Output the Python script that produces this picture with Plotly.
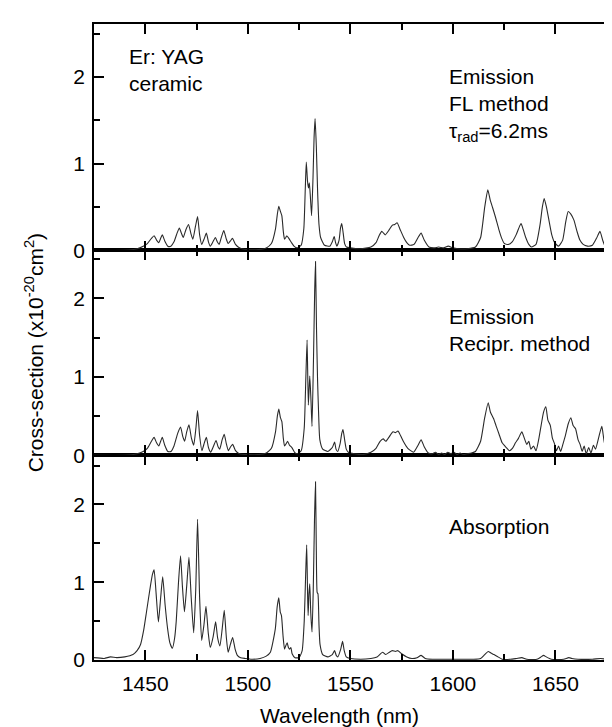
import plotly.graph_objects as go

# ---------------- data ----------------
fl_x = [1425, 1435, 1442, 1446, 1449, 1451, 1453, 1454.3, 1455.5, 1456.6, 1457.5, 1458.3, 1459.5, 1461, 1462.5, 1464,
        1465.5, 1466.6, 1467.6, 1468.5, 1469.8, 1471.1, 1472.2, 1473.2, 1474.5, 1475.5, 1476.5, 1477.5, 1478.8, 1479.8,
        1480.8, 1481.7, 1483, 1484.2, 1485.1, 1486, 1487.2, 1488.3, 1489.4, 1490.4, 1491.5, 1492.5, 1494, 1495.3, 1497,
        1500, 1505, 1509, 1511.5, 1513.5, 1514.4, 1515.1, 1515.9, 1516.6, 1517.3, 1517.9, 1518.5, 1519, 1520, 1521.3,
        1522.5, 1524, 1526, 1527.3, 1528, 1528.5, 1529.1, 1529.6, 1530, 1530.5, 1531.1, 1531.8, 1532.3, 1532.8, 1533.4,
        1534, 1534.7, 1535.5, 1537.4, 1540, 1541.2, 1542.1, 1542.8, 1543.4, 1544.5, 1545.2, 1545.8, 1546.5, 1547.2,
        1548.1, 1550, 1555, 1560, 1562.5, 1564, 1565.3, 1566.2, 1567, 1568.7, 1570.4, 1571.6, 1572.8, 1574.3, 1576,
        1577.5, 1578.9, 1581, 1583, 1584.5, 1586, 1588.3, 1591, 1593, 1595.5, 1597.7, 1600, 1602.5, 1607, 1611, 1613.5,
        1615.5, 1617, 1618.2, 1619.4, 1620.8, 1622.3, 1623.8, 1625.1, 1627, 1628.9, 1630.8, 1632, 1633.2, 1634.3, 1635.5,
        1637, 1638.3, 1640.5, 1642.5, 1643.6, 1644.5, 1645.6, 1646.8, 1648.2, 1649.6, 1651.5, 1653.5, 1655, 1656.2,
        1657.5, 1659, 1660.5, 1661.9, 1663.5, 1665.6, 1668, 1670, 1671.7, 1673, 1674.2, 1676, 1680]
fl_y = [0.0, 0.0, 0.005, 0.02, 0.05, 0.08, 0.14, 0.17, 0.12, 0.09, 0.14, 0.18, 0.11, 0.05, 0.05, 0.10,
        0.20, 0.26, 0.20, 0.15, 0.24, 0.30, 0.20, 0.13, 0.28, 0.39, 0.18, 0.07, 0.14, 0.20,
        0.10, 0.05, 0.10, 0.15, 0.10, 0.07, 0.16, 0.23, 0.14, 0.08, 0.11, 0.14, 0.07, 0.04, 0.02,
        0.01, 0.01, 0.03, 0.08, 0.25, 0.42, 0.51, 0.45, 0.40, 0.22, 0.13, 0.15, 0.17, 0.14, 0.09,
        0.05, 0.03, 0.06, 0.25, 0.70, 1.02, 0.80, 0.72, 0.78, 0.62, 0.40, 0.85, 1.30, 1.52, 1.20,
        0.70, 0.30, 0.15, 0.06, 0.05, 0.10, 0.16, 0.09, 0.05, 0.12, 0.26, 0.31, 0.20, 0.08,
        0.04, 0.03, 0.02, 0.04, 0.09, 0.17, 0.22, 0.20, 0.18, 0.23, 0.29, 0.30, 0.32, 0.24, 0.15,
        0.09, 0.06, 0.07, 0.15, 0.20, 0.12, 0.04, 0.03, 0.04, 0.03, 0.05, 0.03, 0.02, 0.02, 0.04, 0.15,
        0.50, 0.70, 0.58, 0.49, 0.38, 0.25, 0.14, 0.08, 0.07, 0.10, 0.18, 0.25, 0.31, 0.24, 0.15,
        0.07, 0.04, 0.07, 0.30, 0.50, 0.60, 0.50, 0.35, 0.18, 0.09, 0.05, 0.12, 0.33, 0.45,
        0.42, 0.35, 0.22, 0.12, 0.07, 0.05, 0.06, 0.14, 0.22, 0.12, 0.05, 0.03, 0.03]

rec_x = [1425, 1440, 1446, 1449, 1451, 1453, 1454.3, 1455.5, 1456.6, 1457.5, 1458.3, 1459.5, 1461, 1462.5, 1464,
         1465.8, 1467.2, 1468.3, 1469.2, 1470.2, 1471.3, 1472.5, 1473.6, 1474.7, 1475.5, 1476.5, 1477.6, 1478.8,
         1479.8, 1480.8, 1481.9, 1483.3, 1484.5, 1485.5, 1486.3, 1487.5, 1488.5, 1489.5, 1490.5, 1491.6, 1492.6,
         1494, 1495.8, 1500, 1505, 1509, 1511.5, 1513.5, 1514.4, 1515.1, 1515.9, 1516.6, 1517.3, 1517.9, 1518.7,
         1519.4, 1520.3, 1521.5, 1522.8, 1524, 1526, 1527.5, 1528.3, 1528.9, 1529.5, 1530.2, 1530.8, 1531.3, 1532,
         1532.6, 1533, 1533.5, 1534, 1534.5, 1535.1, 1536.5, 1539, 1541.2, 1542.3, 1543, 1543.8, 1545, 1545.8,
         1546.4, 1547.2, 1548, 1549, 1552, 1556, 1560, 1562.5, 1564.5, 1566, 1567.3, 1569, 1570.8, 1572, 1573.2,
         1574.5, 1576, 1578, 1580.8, 1583, 1584.5, 1586, 1588, 1590, 1591.5, 1593, 1594.5, 1596, 1597.5, 1599,
         1600.5, 1602, 1603.5, 1605, 1607, 1609, 1611, 1613.5, 1615.5, 1617.2, 1618.3, 1619.8, 1621, 1622.5, 1624,
         1626, 1627.5, 1629, 1630.5, 1632, 1633.6, 1634.8, 1636, 1637, 1638, 1639.3, 1640.5, 1641.8, 1643, 1644.2,
         1645.3, 1646.3, 1647.5, 1648.5, 1649.5, 1650.5, 1651.5, 1652.5, 1653.5, 1654.8, 1656.2, 1657.5, 1658.6,
         1659.8, 1661, 1662, 1663, 1664, 1665, 1666.2, 1667.3, 1668.5, 1669.5, 1671, 1672.6, 1673.6, 1674.6,
         1675.5, 1676.5, 1677.5, 1678.5, 1679.3, 1680]
rec_y = [0.0, 0.0, 0.02, 0.05, 0.09, 0.18, 0.23, 0.16, 0.12, 0.18, 0.23, 0.13, 0.05, 0.05, 0.12,
         0.28, 0.36, 0.24, 0.18, 0.30, 0.39, 0.22, 0.13, 0.35, 0.57, 0.25, 0.06, 0.16,
         0.23, 0.10, 0.04, 0.12, 0.19, 0.11, 0.08, 0.20, 0.27, 0.15, 0.06, 0.11, 0.14,
         0.06, 0.02, 0.01, 0.01, 0.03, 0.09, 0.30, 0.50, 0.59, 0.48, 0.43, 0.22, 0.12, 0.15,
         0.18, 0.13, 0.10, 0.04, 0.02, 0.06, 0.35, 1.00, 1.47, 0.64, 1.01, 0.70, 0.37, 1.20,
         2.10, 2.47, 1.60, 0.96, 0.55, 0.20, 0.08, 0.05, 0.10, 0.17, 0.08, 0.05, 0.15, 0.28,
         0.33, 0.20, 0.08, 0.04, 0.02, 0.01, 0.04, 0.09, 0.18, 0.21, 0.18, 0.24, 0.30, 0.29, 0.31,
         0.25, 0.17, 0.09, 0.04, 0.13, 0.20, 0.11, 0.03, 0.02, 0.04, 0.01, 0.03, 0.01, 0.04, 0.02,
         0.04, 0.01, 0.03, 0.01, 0.02, 0.03, 0.05, 0.18, 0.48, 0.67, 0.55, 0.47, 0.38, 0.27, 0.16,
         0.10, 0.06, 0.09, 0.16, 0.22, 0.30, 0.22, 0.14, 0.18, 0.08, 0.12, 0.06, 0.20, 0.38, 0.55,
         0.62, 0.45, 0.38, 0.22, 0.15, 0.06, 0.12, 0.05, 0.13, 0.25, 0.40, 0.48, 0.38,
         0.34, 0.20, 0.14, 0.05, 0.12, 0.02, 0.10, 0.03, 0.13, 0.08, 0.22, 0.37, 0.20, 0.08,
         0.15, 0.05, 0.12, 0.06, 0.15, 0.10]

abs_x = [1425, 1430, 1433, 1436, 1440, 1444, 1446, 1447.7, 1449.2, 1450.6, 1452.5, 1453.5, 1454.3, 1455.3, 1456.4,
         1457.5, 1458.5, 1459.7, 1460.9, 1462, 1463.2, 1464.3, 1465.1, 1466.2, 1467.2, 1468.1, 1469.1, 1470.2,
         1471.3, 1472.4, 1473.6, 1474.6, 1475.5, 1476.5, 1477.5, 1478.6, 1479.6, 1480.7, 1481.7, 1483.1, 1484.3,
         1485.3, 1486.4, 1487.5, 1488.5, 1489.5, 1490.4, 1491.5, 1492.6, 1493.8, 1494.9, 1496.5, 1498.7, 1502, 1506,
         1509, 1511, 1513.4, 1514.3, 1515.1, 1515.8, 1516.4, 1517.2, 1517.9, 1518.6, 1519.2, 1519.8, 1520.3, 1521,
         1521.6, 1523, 1525, 1526.5, 1527.5, 1528.2, 1528.7, 1529.1, 1529.4, 1529.8, 1530.2, 1530.7, 1531.3, 1531.9,
         1532.5, 1533, 1533.4, 1533.8, 1534.2, 1534.7, 1535.2, 1536.5, 1539, 1541.2, 1542.3, 1543.1, 1543.9, 1545.3,
         1546.2, 1547, 1548, 1550, 1555, 1560, 1563, 1565.7, 1567.2, 1569, 1570.4, 1572, 1573.2, 1575, 1577.5, 1580,
         1582.5, 1584.5, 1586.5, 1590, 1600, 1610, 1613.5, 1615.5, 1617.2, 1618.5, 1620, 1622, 1624, 1628, 1631,
         1633.6, 1636, 1641, 1643, 1644.2, 1645.5, 1648, 1654, 1656.5, 1658, 1661, 1668, 1672, 1675, 1680]
abs_y = [0.03, 0.02, 0.04, 0.03, 0.04, 0.07, 0.12, 0.20, 0.38, 0.62, 0.95, 1.10, 1.16, 0.85, 0.49,
         0.80, 1.07, 0.70, 0.40, 0.22, 0.15, 0.28, 0.50, 1.00, 1.34, 0.95, 0.62, 0.95,
         1.32, 0.80, 0.35, 0.90, 1.81, 0.80, 0.25, 0.45, 0.69, 0.35, 0.16, 0.30, 0.49,
         0.28, 0.18, 0.40, 0.64, 0.30, 0.10, 0.20, 0.29, 0.14, 0.06, 0.03, 0.02, 0.01, 0.02,
         0.05, 0.10, 0.40, 0.68, 0.80, 0.62, 0.57, 0.30, 0.14, 0.19, 0.22, 0.16, 0.14, 0.16,
         0.08, 0.03, 0.03, 0.12, 0.50, 1.10, 1.48, 0.90, 0.57, 0.85, 0.98, 0.60, 0.36, 0.90,
         1.80, 2.29, 1.40, 0.87, 0.85, 0.45, 0.20, 0.07, 0.04, 0.07, 0.12, 0.06, 0.04, 0.14,
         0.24, 0.12, 0.04, 0.02, 0.01, 0.02, 0.04, 0.10, 0.07, 0.10, 0.12, 0.11, 0.12, 0.08, 0.04, 0.02,
         0.03, 0.06, 0.02, 0.01, 0.01, 0.01, 0.02, 0.07, 0.11, 0.09, 0.07, 0.04, 0.01, 0.01, 0.02,
         0.03, 0.01, 0.01, 0.04, 0.06, 0.04, 0.01, 0.01, 0.03, 0.02, 0.01, 0.01, 0.02, 0.01, 0.01]

x_range = [1425, 1680]
panel_top = [0, 2.61]
panel_mid = [0, 2.61]
panel_bot = [0, 2.63]

# ---------------- figure ----------------
FONT = "Liberation Sans, Arial, Helvetica, sans-serif"
line_style = dict(color="#2a2a2a", width=1.1, shape="spline", smoothing=0.5)

fig = go.Figure()
fig.add_trace(go.Scatter(x=abs_x, y=abs_y, mode="lines", line=line_style, xaxis="x", yaxis="y",
                         showlegend=False, cliponaxis=True))
fig.add_trace(go.Scatter(x=rec_x, y=rec_y, mode="lines", line=line_style, xaxis="x2", yaxis="y2",
                         showlegend=False, cliponaxis=True))
fig.add_trace(go.Scatter(x=fl_x, y=fl_y, mode="lines", line=line_style, xaxis="x3", yaxis="y3",
                         showlegend=False, cliponaxis=True))

d1 = 204.7 / 636.3
d2 = (204.7 + 205.0) / 636.3

xcommon = dict(range=x_range, tick0=1400, dtick=50, ticks="inside", ticklen=10, tickwidth=1.5, tickcolor="black",
               showline=True, linecolor="black", linewidth=1.8, mirror="ticks", showgrid=False, zeroline=False,
               minor=dict(dtick=25, ticks="inside", ticklen=6, tickwidth=1.5, tickcolor="black", showgrid=False),
               tickfont=dict(family=FONT, size=21, color="black"))
ycommon = dict(tick0=0, dtick=1, ticks="inside", ticklen=10, tickwidth=1.5, tickcolor="black",
               showline=True, linecolor="black", linewidth=1.8, mirror="ticks", showgrid=False, zeroline=False,
               minor=dict(dtick=0.5, ticks="inside", ticklen=6, tickwidth=1.5, tickcolor="black", showgrid=False),
               tickfont=dict(family=FONT, size=21, color="black"), ticklabelstandoff=3)

fig.update_layout(
    width=612, height=727,
    margin=dict(l=86, r=1, t=16, b=75),
    paper_bgcolor="white", plot_bgcolor="white",
    font=dict(family=FONT, size=21, color="black"),
    xaxis=dict(xcommon, anchor="y", domain=[0, 1], ticklabelstandoff=4),
    xaxis2=dict(xcommon, anchor="y2", domain=[0, 1], showticklabels=False, matches="x"),
    xaxis3=dict(xcommon, anchor="y3", domain=[0, 1], showticklabels=False, matches="x"),
    yaxis=dict(ycommon, anchor="x", domain=[0, d1], range=panel_bot),
    yaxis2=dict(ycommon, anchor="x2", domain=[d1, d2], range=panel_mid),
    yaxis3=dict(ycommon, anchor="x3", domain=[d2, 1], range=panel_top),
)

def label(text, x, y, ref):
    fig.add_annotation(text=text, x=x, y=y, xref=ref[0], yref=ref[1], xanchor="left", yanchor="middle",
                       showarrow=False, font=dict(family=FONT, size=21, color="black"))

label("Er: YAG", 1441, 2.23, ("x3", "y3"))
label("ceramic", 1441, 1.92, ("x3", "y3"))
label("Emission", 1597, 2.0, ("x3", "y3"))
label("FL method", 1597, 1.69, ("x3", "y3"))
label("τ<sub>rad</sub>=6.2ms", 1597, 1.36, ("x3", "y3"))
label("Emission", 1597, 1.77, ("x2", "y2"))
label("Recipr. method", 1597, 1.42, ("x2", "y2"))
label("Absorption", 1597, 1.71, ("x", "y"))

fig.add_annotation(text="Wavelength (nm)", x=0.47, y=-56 / 636.3, xref="paper", yref="paper",
                   xanchor="center", yanchor="middle", showarrow=False,
                   font=dict(family=FONT, size=21, color="black"))
fig.add_annotation(text="Cross-section (x10<sup>-20</sup>cm<sup>2</sup>)", x=-60 / 525, y=(652 - 345) / 636.3,
                   xref="paper", yref="paper", xanchor="center", yanchor="middle", textangle=-90,
                   showarrow=False, font=dict(family=FONT, size=21, color="black"))

fig.write_html("out.html")
